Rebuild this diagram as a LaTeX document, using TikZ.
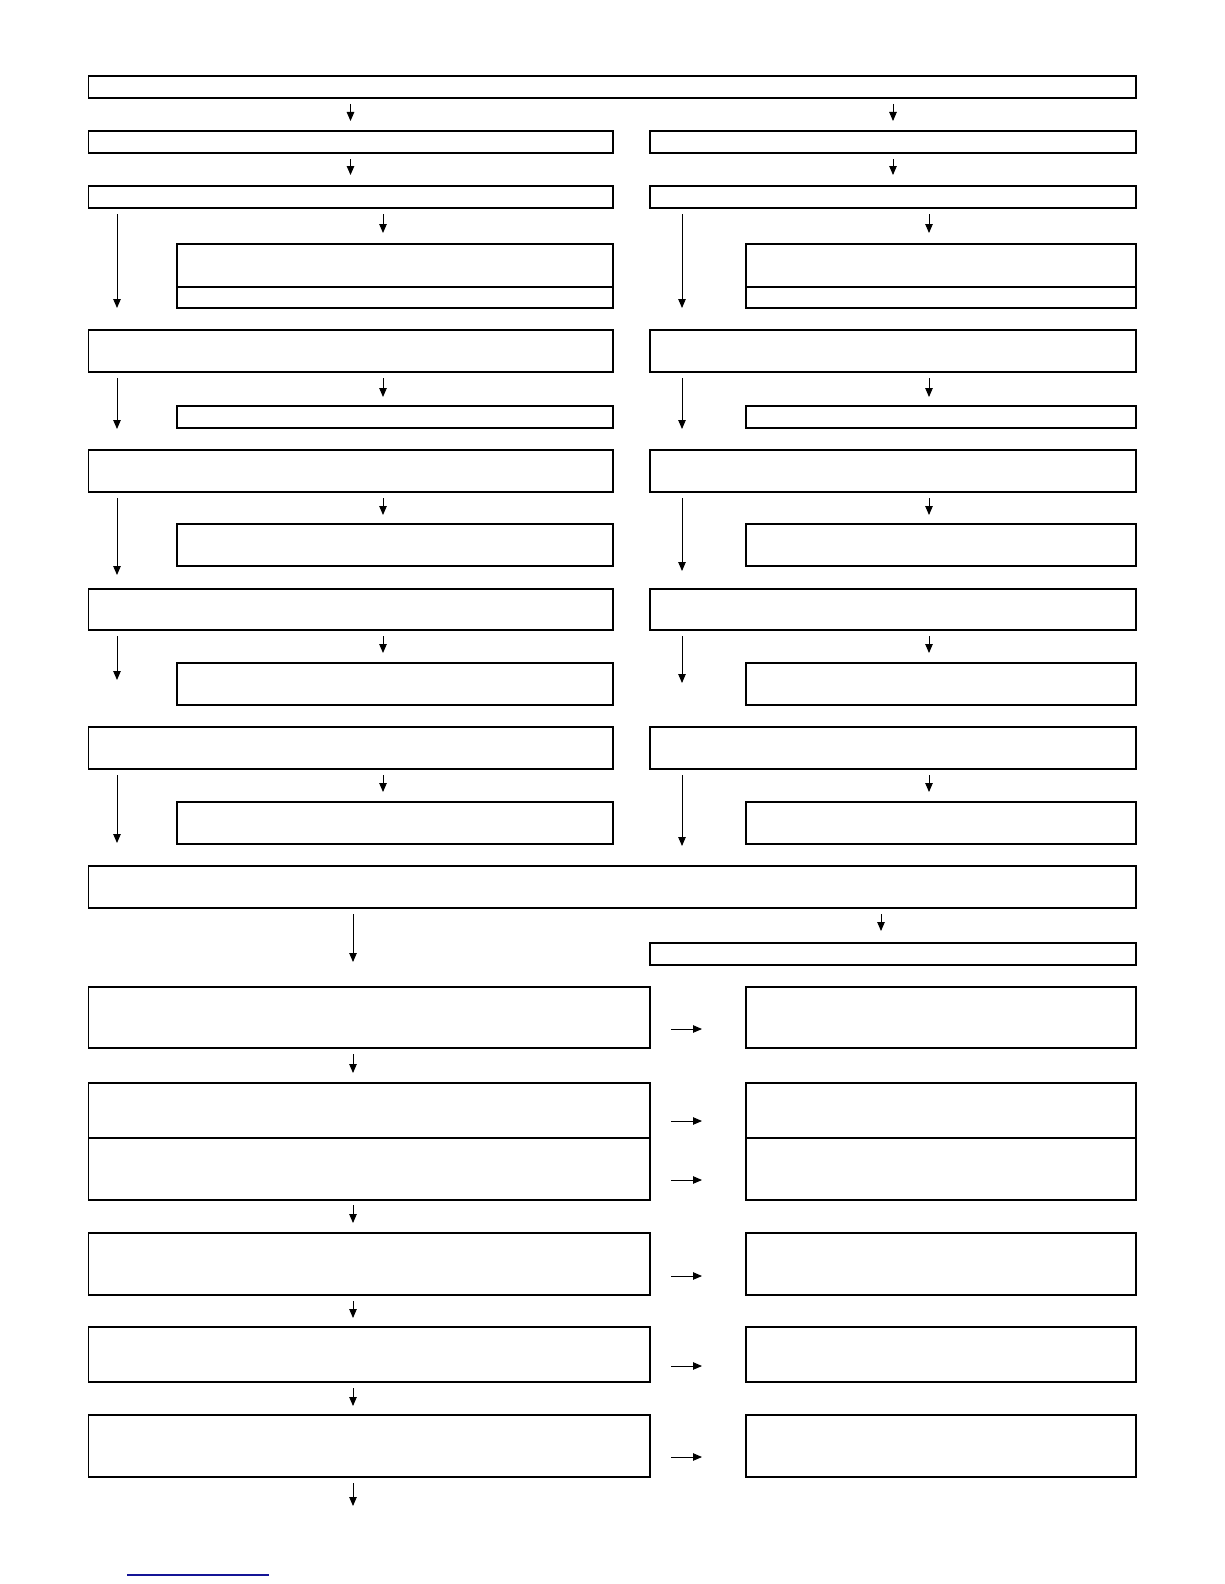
\documentclass[tikz,border=0pt]{standalone}
\usepackage{tikz}
\usepackage{xcolor}
\usetikzlibrary{arrows.meta, positioning}

\definecolor{tautan}{RGB}{20,20,150}

\begin{document}
\begin{tikzpicture}[x=1pt, y=-1pt,
  kotak/.style={draw, line width=1.15pt, inner sep=0pt, outer sep=0pt, anchor=north west},
  panah/.style={-{Triangle[length=9pt, width=7.5pt]}, line width=0.9pt}]
  \useasboundingbox (0,0) rectangle (1224,1584);

  % Kotak
  \foreach \n/\xa/\ya/\xb/\yb in {
      top/88.5/76/1136/98,
      r2-l/88.5/131/613/153, r2-r/650/131/1136/153,
      r3-l/88.5/186/613/208, r3-r/650/186/1136/208,
      s4a-l/177/244/613/287, s4b-l/177/287/613/308,
      s4a-r/746/244/1136/287, s4b-r/746/287/1136/308,
      r5-l/88.5/330/613/372, r5-r/650/330/1136/372,
      s6-l/177/406/613/428, s6-r/746/406/1136/428,
      r7-l/88.5/450/613/492, r7-r/650/450/1136/492,
      s8-l/177/524/613/566, s8-r/746/524/1136/566,
      r9-l/88.5/589/613/630, r9-r/650/589/1136/630,
      s10-l/177/663/613/705, s10-r/746/663/1136/705,
      r11-l/88.5/727/613/769, r11-r/650/727/1136/769,
      s12-l/177/802/613/844, s12-r/746/802/1136/844,
      r13/88.5/866/1136/908,
      r14-r/650/943/1136/965,
      r15-l/88.5/987/650/1048, r15-r/746/987/1136/1048,
      r16a-l/88.5/1083/650/1138, r16b-l/88.5/1138/650/1200,
      r16a-r/746/1083/1136/1138, r16b-r/746/1138/1136/1200,
      r17-l/88.5/1233/650/1295, r17-r/746/1233/1136/1295,
      r18-l/88.5/1327/650/1382, r18-r/746/1327/1136/1382,
      r19-l/88.5/1415/650/1477, r19-r/746/1415/1136/1477} {
    \node[kotak, minimum width={(\xb-\xa)*1pt}, minimum height={(\yb-\ya)*1pt}] (\n) at (\xa,\ya) {};
  }

  % Panah ke bawah
  \foreach \a/\b/\k/\s/\t in {
      top/r2-l/350.5/6/10, top/r2-r/893/6/10,
      r2-l/r3-l/350.5/6/11, r2-r/r3-r/893/6/11,
      r3-l/s4a-l/383/6/11, r3-r/s4a-r/929/6/11,
      r3-l/r5-l/117/6/22, r3-r/r5-r/682/6/22,
      r5-l/s6-l/383/6/9, r5-r/s6-r/929/6/9,
      r5-l/r7-l/117/6/21, r5-r/r7-r/682/6/21,
      r7-l/s8-l/383/6/9, r7-r/s8-r/929/6/9,
      r7-l/r9-l/117/6/14, r7-r/r9-r/682/6/18,
      r9-l/s10-l/383/6/10, r9-r/s10-r/929/6/10,
      r9-l/r11-l/117/6/47, r9-r/r11-r/682/6/44,
      r11-l/s12-l/383/6/10, r11-r/s12-r/929/6/10,
      r11-l/r13/117/6/23, r11-r/r13/682/6/20,
      r13/r15-l/353/6/25, r13/r14-r/881/6/12,
      r15-l/r16a-l/353/6/10, r16b-l/r17-l/353/5/10,
      r17-l/r18-l/353/6/9, r18-l/r19-l/353/6/9} {
    \draw[panah, shorten <=\s pt, shorten >=\t pt] (\a.south -| \k,0) -- (\b.north -| \k,0);
  }
  \coordinate (akhir) at (353,1506);
  \draw[panah, shorten <=6pt] (r19-l.south -| akhir) -- (akhir);

  % Panah ke kanan
  \foreach \a/\b/\y in {r15-l/r15-r/1029, r16a-l/r16a-r/1121, r16b-l/r16b-r/1180,
      r17-l/r17-r/1276, r18-l/r18-r/1366, r19-l/r19-r/1457} {
    \draw[panah, shorten <=21pt, shorten >=44pt] (\a.east |- 0,\y) -- (\b.west |- 0,\y);
  }

  % Garis tautan
  \draw[tautan, line width=1.3pt] (127,1575) -- (269,1575);
\end{tikzpicture}
\end{document}
